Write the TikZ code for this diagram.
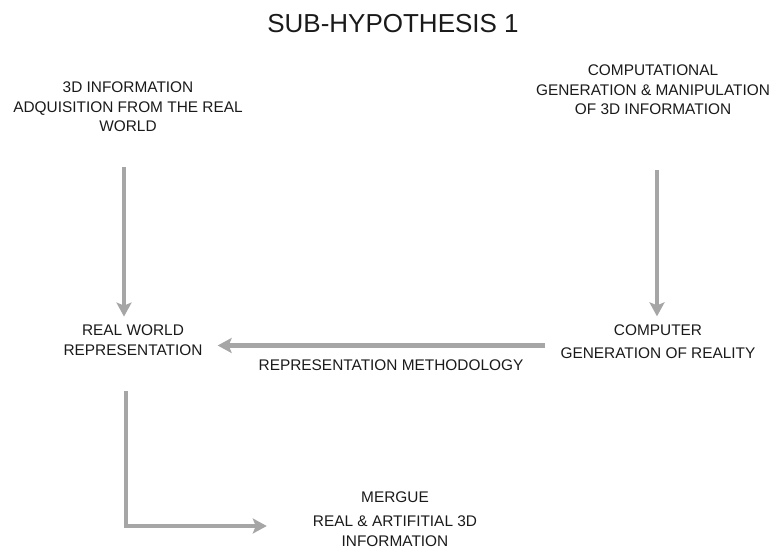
\documentclass[tikz,border=0pt]{standalone}
\usepackage{fontspec}
\setmainfont{Liberation Sans}
\usetikzlibrary{arrows.meta}
\definecolor{ink}{HTML}{1A1A1A}
\definecolor{flow}{HTML}{A6A6A6}
\tikzset{
  label/.style={inner sep=0pt, align=center, text=ink,
    font=\fontsize{15.4}{19.5}\selectfont},
  heading/.style={inner sep=0pt, text=ink, font=\fontsize{26}{30}\selectfont},
  arr/.style={draw=flow, line width=4.5pt,
    -{Stealth[length=14pt, width=15pt, inset=3pt]}},
}
\begin{document}
\begin{tikzpicture}[x=1pt, y=-1pt]
  \useasboundingbox (0,0) rectangle (773,551);

  \node[heading] (title) at (393,24) {SUB-HYPOTHESIS 1};

  \node[label] (acq) at (128,107)
    {3D INFORMATION\\ADQUISITION FROM THE REAL\\WORLD};
  \node[label] (comp) at (653,90)
    {COMPUTATIONAL\\GENERATION \& MANIPULATION\\OF 3D INFORMATION};
  \node[label] (real) at (133,340)
    {REAL WORLD\\REPRESENTATION};
  \node[label] (gen) at (658,341.5)
    {COMPUTER\\[3.5pt]GENERATION OF REALITY};
  \node[label] (method) at (391,365) {REPRESENTATION METHODOLOGY};
  \node[label] (merge) at (395,519)
    {MERGUE\\[4.5pt]REAL \& ARTIFITIAL 3D\\INFORMATION};

  % acquisition feeds the real-world representation
  \draw[arr, shorten <=35pt, shorten >=8pt]
    ([xshift=-4pt]acq.south) -- ([xshift=-4pt]acq.south |- real.north);
  % computational generation feeds computer generation of reality
  \draw[arr, shorten <=55pt, shorten >=8pt]
    ([xshift=-1pt]gen.north |- comp.south) -- ([xshift=-1pt]gen.north);
  % representation methodology links the two branches
  \draw[arr, shorten <=15pt, shorten >=15pt]
    ([yshift=-4pt]gen.west) -- ([yshift=-4pt]gen.west -| real.east);
  % both are merged
  \draw[arr, shorten <=36pt, shorten >=46pt]
    ([xshift=-7pt]real.south) |- ([yshift=-7pt]merge.west);
\end{tikzpicture}
\end{document}
